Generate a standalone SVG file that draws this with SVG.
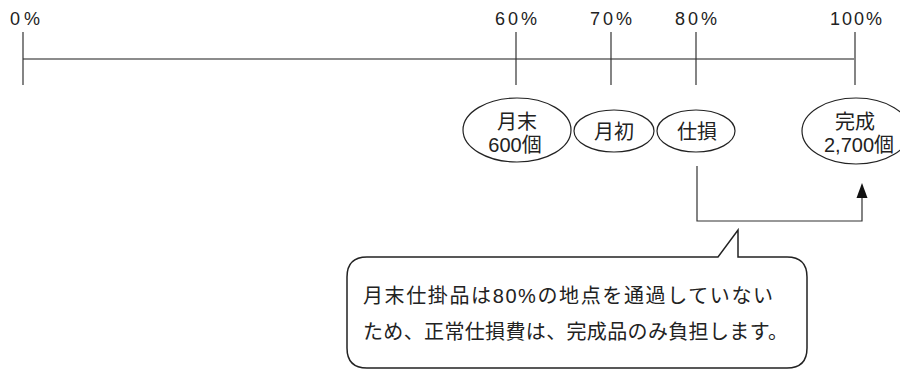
<svg xmlns="http://www.w3.org/2000/svg" width="900" height="370" viewBox="0 0 900 370">
<style>
.ln{stroke:#333;stroke-width:1.2;fill:none}
.ax{stroke:#666;stroke-width:1.3;fill:none}
.el{stroke:#222;stroke-width:1.2;fill:#fff}
.t{font-family:"Liberation Sans","Noto Sans CJK JP",sans-serif;fill:#222}
.p{font-size:18px;text-anchor:middle}
.n{font-size:20px;text-anchor:middle}
.c{font-size:20px}
</style>
<g id="axis">
<line class="ax" x1="23" y1="59" x2="854" y2="59"/>
<line class="ln" x1="23" y1="32" x2="23" y2="85"/>
<line class="ln" x1="516" y1="32" x2="516" y2="85"/>
<line class="ln" x1="611" y1="32" x2="611" y2="85"/>
<line class="ln" x1="696" y1="32" x2="696" y2="85"/>
<line class="ln" x1="855" y1="32" x2="855" y2="85"/>
<text class="t p" x="25" y="25" textLength="30" lengthAdjust="spacing">0%</text>
<text class="t p" x="516" y="25" textLength="42" lengthAdjust="spacing">60%</text>
<text class="t p" x="611" y="25" textLength="42" lengthAdjust="spacing">70%</text>
<text class="t p" x="696" y="25" textLength="42" lengthAdjust="spacing">80%</text>
<text class="t p" x="856" y="25" textLength="52" lengthAdjust="spacing">100%</text>
</g>
<g id="n-getsumatsu">
<ellipse class="el" cx="517" cy="130" rx="54" ry="32"/>
<text class="t n" x="517" y="129">月末</text>
<text class="t n" x="515" y="152">600個</text>
</g>
<g id="n-gessho">
<ellipse class="el" cx="614" cy="131" rx="40" ry="21"/>
<text class="t n" x="614" y="139">月初</text>
</g>
<g id="n-shison">
<ellipse class="el" cx="696" cy="131" rx="39" ry="21"/>
<text class="t n" x="697" y="139">仕損</text>
</g>
<g id="n-kansei">
<ellipse class="el" cx="856" cy="131" rx="54" ry="33"/>
<text class="t n" x="855" y="129">完成</text>
<text class="t n" x="859" y="152">2,700個</text>
</g>
<g id="connectors">
<path class="ln" d="M697,166 V221 H862 V196"/>
<polygon points="862,183 856.5,198 867.5,198" fill="#111"/>
</g>
<g id="callout">
<path class="el" style="stroke-width:1.5" d="M367,257 H718 L738,230 V257 H787 Q807,257 807,277 V348 Q807,368 787,368 H367 Q347,368 347,348 V277 Q347,257 367,257 Z"/>
<text class="t c" x="363" y="303" textLength="410" lengthAdjust="spacing">月末仕掛品は80%の地点を通過していない</text>
<text class="t c" x="363" y="339" textLength="425" lengthAdjust="spacing">ため、正常仕損費は、完成品のみ負担します。</text>
</g>
</svg>
